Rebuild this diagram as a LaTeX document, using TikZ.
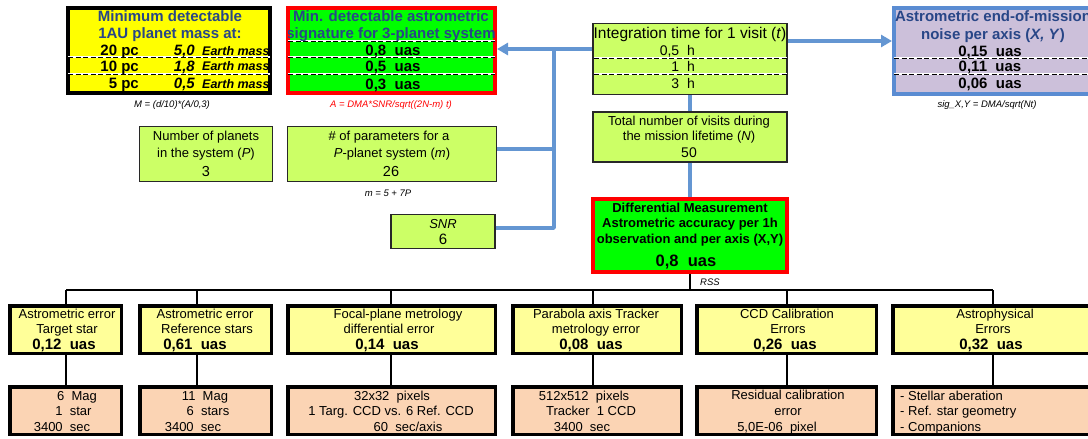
\documentclass[tikz,border=0pt]{standalone}
\usepackage{fontspec}
\setmainfont{Liberation Sans}
\usetikzlibrary{arrows.meta}
\definecolor{ttlblue}{RGB}{40,70,135}
\definecolor{yelF}{RGB}{255,255,0}
\definecolor{limeF}{RGB}{0,255,0}
\definecolor{lgreen}{RGB}{204,255,102}
\definecolor{lav}{RGB}{204,192,218}
\definecolor{pyellow}{RGB}{255,255,153}
\definecolor{peach}{RGB}{251,212,180}
\definecolor{connblue}{RGB}{100,150,210}
\definecolor{noiseblue}{RGB}{90,140,210}
\definecolor{redB}{RGB}{255,0,0}
\definecolor{dgray}{RGB}{40,40,40}
\newcommand\fsz[1]{\fontsize{#1}{#1}\selectfont}
\newcommand\sepline[3]{\draw[sepw] (#1,#3) -- (#2,#3); \draw[sepd] (#1,#3) -- (#2,#3);}
\begin{document}
\begin{tikzpicture}[x=1pt,y=-1pt,
  bx/.style={rectangle, draw, inner sep=0pt},
  thk/.style={bx, line width=4pt},
  thn/.style={bx, line width=1.2pt, draw=dgray, fill=lgreen},
  lvtwo/.style={bx, line width=3.5pt, fill=pyellow, minimum height=47.5},
  lvthree/.style={bx, line width=3.5pt, fill=peach, minimum height=47.5},
  tx/.style={inner sep=0pt, anchor=mid},
  ttl/.style={tx, font=\fsz{15}\bfseries, text=ttlblue},
  val/.style={tx, font=\fsz{15}\bfseries},
  captxt/.style={tx, font=\fsz{9.5}\itshape},
  mtx/.style={tx, font=\fsz{13}},
  ltx/.style={tx, font=\fsz{13}},
  lval/.style={tx, font=\fsz{15}\bfseries},
  btx/.style={tx, font=\fsz{13}},
  sepw/.style={white, line width=1.3pt},
  sepd/.style={black, line width=0.7pt, dash pattern=on 5pt off 2.5pt},
  blc/.style={draw=connblue, line width=3.5pt},
  tip/.style={-{Triangle[length=11pt,width=12pt]}},
  tree/.style={draw=black, line width=2pt}
]
\useasboundingbox (0,0) rectangle (1088,439);

% ---------- top row boxes ----------
\node[thk, fill=yelF, minimum width=202, minimum height=85] (mass) at (169,50.5) {};
\node[thk, draw=redB, fill=limeF, minimum width=207, minimum height=85] (sig) at (391.5,50.5) {};
\node[thn, minimum width=194, minimum height=71] (integ) at (690,59) {};
\node[thk, draw=noiseblue, fill=lav, minimum width=196, minimum height=86] (noise) at (992,51) {};

% separators
\sepline{68}{270}{57}
\sepline{68}{270}{74}
\sepline{288}{495}{41}
\sepline{288}{495}{57}
\sepline{288}{495}{74}
\sepline{594}{787}{58}
\sepline{594}{787}{74}
\sepline{894}{1088}{58}
\sepline{894}{1088}{74}

% mass box text
\node[ttl] (massT1) at (170,19) {Minimum detectable};
\node[ttl] (massT2) at (170,36) {1AU planet mass at:};
\node[val, anchor=mid east] (d1) at (139,53) {20 pc};
\node[val, anchor=mid east] (d2) at (139,68.5) {10 pc};
\node[val, anchor=mid east] (d3) at (139,86) {5 pc};
\node[val, font=\fsz{15}\bfseries\itshape, anchor=mid east] (m1) at (195,53) {5,0};
\node[val, font=\fsz{15}\bfseries\itshape, anchor=mid east] (m2) at (195,68.5) {1,8};
\node[val, font=\fsz{15}\bfseries\itshape, anchor=mid east] (m3) at (195,86) {0,5};
\node[tx, font=\fsz{12.5}\bfseries\itshape, anchor=mid west] (e1) at (202,52.5) {Earth mass};
\node[tx, font=\fsz{12.5}\bfseries\itshape, anchor=mid west] (e2) at (202,68) {Earth mass};
\node[tx, font=\fsz{12.5}\bfseries\itshape, anchor=mid west] (e3) at (202,85.5) {Earth mass};

% sig box text
\begin{scope}
\clip (288,8) rectangle (495,40);
\node[ttl] (sigT1) at (391,19) {Min. detectable astrometric};
\node[ttl] (sigT2) at (391,36) {signature for 3-planet system};
\end{scope}
\node[val] (s1) at (393,53) {0,8~~uas};
\node[val] (s2) at (393,69) {0,5~~uas};
\node[val] (s3) at (393,86.5) {0,3~~uas};

% integration box text
\node[tx, font=\fsz{15.5}] (intT) at (690,35.5) {Integration time for 1 visit (\textit{t})};
\node[tx, font=\fsz{14}, anchor=mid east] (i1) at (695,53) {0,5~~h};
\node[tx, font=\fsz{14}, anchor=mid east] (i2) at (695,69) {1~~h};
\node[tx, font=\fsz{14}, anchor=mid east] (i3) at (695,86) {3~~h};

% noise box text
\node[ttl] (noiT1) at (993,19) {Astrometric end-of-mission};
\node[ttl] (noiT2) at (993,37) {noise per axis (\textit{X, Y})};
\node[val] (n1) at (990,53.5) {0,15~~uas};
\node[val] (n2) at (990,69) {0,11~~uas};
\node[val] (n3) at (990,86) {0,06~~uas};

% captions
\node[captxt] (capM) at (172,105) {M = (d/10)*(A/0,3)};
\node[captxt, text=redB] (capA) at (391,105) {A = DMA*SNR/sqrt((2N-m) t)};
\node[captxt] (capS) at (987,105) {sig\_X,Y = DMA/sqrt(Nt)};

% ---------- middle boxes ----------
\node[thn, minimum width=133, minimum height=55] (planets) at (206,154) {};
\node[mtx] (pl1) at (206,138) {Number of planets};
\node[mtx] (pl2) at (206,155) {in the system (\textit{P})};
\node[tx, font=\fsz{14.5}] (pl3) at (206,174) {3};

\node[thn, minimum width=209, minimum height=55] (params) at (392,154) {};
\node[mtx] (pa1) at (389,138) {\# of parameters for a};
\node[mtx] (pa2) at (392,155) {\textit{P}-planet system (\textit{m})};
\node[tx, font=\fsz{14.5}] (pa3) at (391,174) {26};
\node[captxt] (capm) at (388,194) {m = 5 + 7P};

\node[thn, minimum width=194, minimum height=50] (visits) at (690,137) {};
\node[mtx] (v1) at (689,123) {Total number of visits during};
\node[mtx] (v2) at (689,138) {the mission lifetime (\textit{N})};
\node[tx, font=\fsz{14}] (v3) at (689,155) {50};

\node[thn, minimum width=104, minimum height=34] (snr) at (443,231.5) {};
\node[mtx] (sn1) at (443,226) {\textit{SNR}};
\node[tx, font=\fsz{15}] (sn2) at (443,242) {6};

\node[thk, draw=redB, fill=limeF, minimum width=194, minimum height=73] (diff) at (690,235) {};
\node[tx, font=\fsz{13}\bfseries] (df1) at (690,210) {Differential Measurement};
\node[tx, font=\fsz{13}\bfseries] (df2) at (690,225) {Astrometric accuracy per 1h};
\node[tx, font=\fsz{13}\bfseries] (df3) at (690,241) {observation and per axis (X,Y)};
\node[tx, font=\fsz{16.5}\bfseries] (df4) at (686,264) {0,8~~uas};
\node[captxt] (rss) at (710,282.5) {RSS};

% ---------- blue connectors ----------
\coordinate (jt) at (554,49);
\coordinate (jm) at (554,149);
\coordinate (jb) at (554,228);
\coordinate (ra) at (690,41);
\draw[blc, tip] (integ.west |- jt) -- (sig.east |- jt);
\draw[blc, line join=round] (snr.east |- jb) -- (jb) -- (jt);
\draw[blc] (params.east |- jm) -- (jm);
\draw[blc, tip] (integ.east |- ra) -- (noise.west |- ra);
\draw[blc] (integ.south) -- (visits.north);
\draw[blc] (visits.south) -- (diff.north);

% ---------- level 2 boxes ----------
\node[lvtwo, minimum width=111.5] (l2a) at (65.5,329.5) {};
\node[lvtwo, minimum width=131.5] (l2b) at (205.5,329.5) {};
\node[lvtwo, minimum width=207.5] (l2c) at (391.5,329.5) {};
\node[lvtwo, minimum width=168.5] (l2d) at (597,329.5) {};
\node[lvtwo, minimum width=179.5] (l2e) at (786.5,329.5) {};
\node[lvtwo, minimum width=197.5] (l2f) at (991.5,329.5) {};

\node[ltx] (a1) at (67,316) {Astrometric error};
\node[ltx] (a2) at (67,331) {Target star};
\node[lval] (a3) at (64,347) {0,12~~uas};
\node[ltx] (b1) at (205,316) {Astrometric error};
\node[ltx] (b2) at (207,331) {Reference stars};
\node[lval] (b3) at (195,347) {0,61~~uas};
\node[ltx] (c1) at (398,316) {Focal-plane metrology};
\node[ltx] (c2) at (389,331) {differential error};
\node[lval] (c3) at (387,347) {0,14~~uas};
\node[ltx] (dd1) at (596,316) {Parabola axis Tracker};
\node[ltx] (dd2) at (596,331) {metrology error};
\node[lval] (dd3) at (591,347) {0,08~~uas};
\node[ltx] (ee1) at (787,316) {CCD Calibration};
\node[ltx] (ee2) at (788,331) {Errors};
\node[lval] (ee3) at (785,347) {0,26~~uas};
\node[ltx] (f1) at (995,316) {Astrophysical};
\node[ltx] (f2) at (993,331) {Errors};
\node[lval] (f3) at (991,347) {0,32~~uas};

% ---------- level 3 boxes ----------
\node[lvthree, minimum width=111.5] (l3a) at (65.5,410.5) {};
\node[lvthree, minimum width=131.5] (l3b) at (205.5,410.5) {};
\node[lvthree, minimum width=207.5] (l3c) at (391.5,410.5) {};
\node[lvthree, minimum width=168.5] (l3d) at (597,410.5) {};
\node[lvthree, minimum width=179.5] (l3e) at (786.5,410.5) {};
\node[lvthree, minimum width=197.5] (l3f) at (991.5,410.5) {};

\node[btx] (ga1) at (77,398) {6~~Mag};
\node[btx] (ga2) at (73.5,413) {1~~star};
\node[btx] (ga3) at (62,429) {3400~~sec};
\node[btx] (gb1) at (205,398) {11~~Mag};
\node[btx] (gb2) at (208,413) {6~~stars};
\node[btx] (gb3) at (193,429) {3400~~sec};
\node[btx] (gc1) at (392,398) {32x32~~pixels};
\node[btx] (gc2) at (391,413) {1 Targ. CCD vs. 6 Ref. CCD};
\node[btx] (gc3) at (408,429) {60~~sec/axis};
\node[btx] (gd1) at (584,398) {512x512~~pixels};
\node[btx] (gd2) at (591,413) {Tracker~~1 CCD};
\node[btx] (gd3) at (582,429) {3400~~sec};
\node[btx] (ge1) at (788,397) {Residual calibration};
\node[btx] (ge2) at (788,413) {error};
\node[btx] (ge3) at (777,429) {5,0E-06~~pixel};
\node[btx, anchor=mid west] (gf1) at (900,398) {- Stellar aberation};
\node[btx, anchor=mid west] (gf2) at (900,413) {- Ref. star geometry};
\node[btx, anchor=mid west] (gf3) at (900,429) {- Companions};

% ---------- tree connectors ----------
\coordinate (bus) at (690,290);
\coordinate (dA) at (66,290);
\coordinate (dB) at (197,290);
\coordinate (dC) at (391,290);
\coordinate (dD) at (593,290);
\coordinate (dE) at (787,290);
\coordinate (dF) at (993,290);
\draw[tree] (diff.south) -- (diff.south |- bus);
\draw[tree] (dA) -- (dF);
\draw[tree] (dA) -- (dA |- l2a.north);
\draw[tree] (dB) -- (dB |- l2b.north);
\draw[tree] (dC) -- (dC |- l2c.north);
\draw[tree] (dD) -- (dD |- l2d.north);
\draw[tree] (dE) -- (dE |- l2e.north);
\draw[tree] (dF) -- (dF |- l2f.north);
\draw[tree] (dA |- l2a.south) -- (dA |- l3a.north);
\draw[tree] (dB |- l2b.south) -- (dB |- l3b.north);
\draw[tree] (dC |- l2c.south) -- (dC |- l3c.north);
\draw[tree] (dD |- l2d.south) -- (dD |- l3d.north);
\draw[tree] (dE |- l2e.south) -- (dE |- l3e.north);
\draw[tree] (dF |- l2f.south) -- (dF |- l3f.north);
\end{tikzpicture}
\end{document}
